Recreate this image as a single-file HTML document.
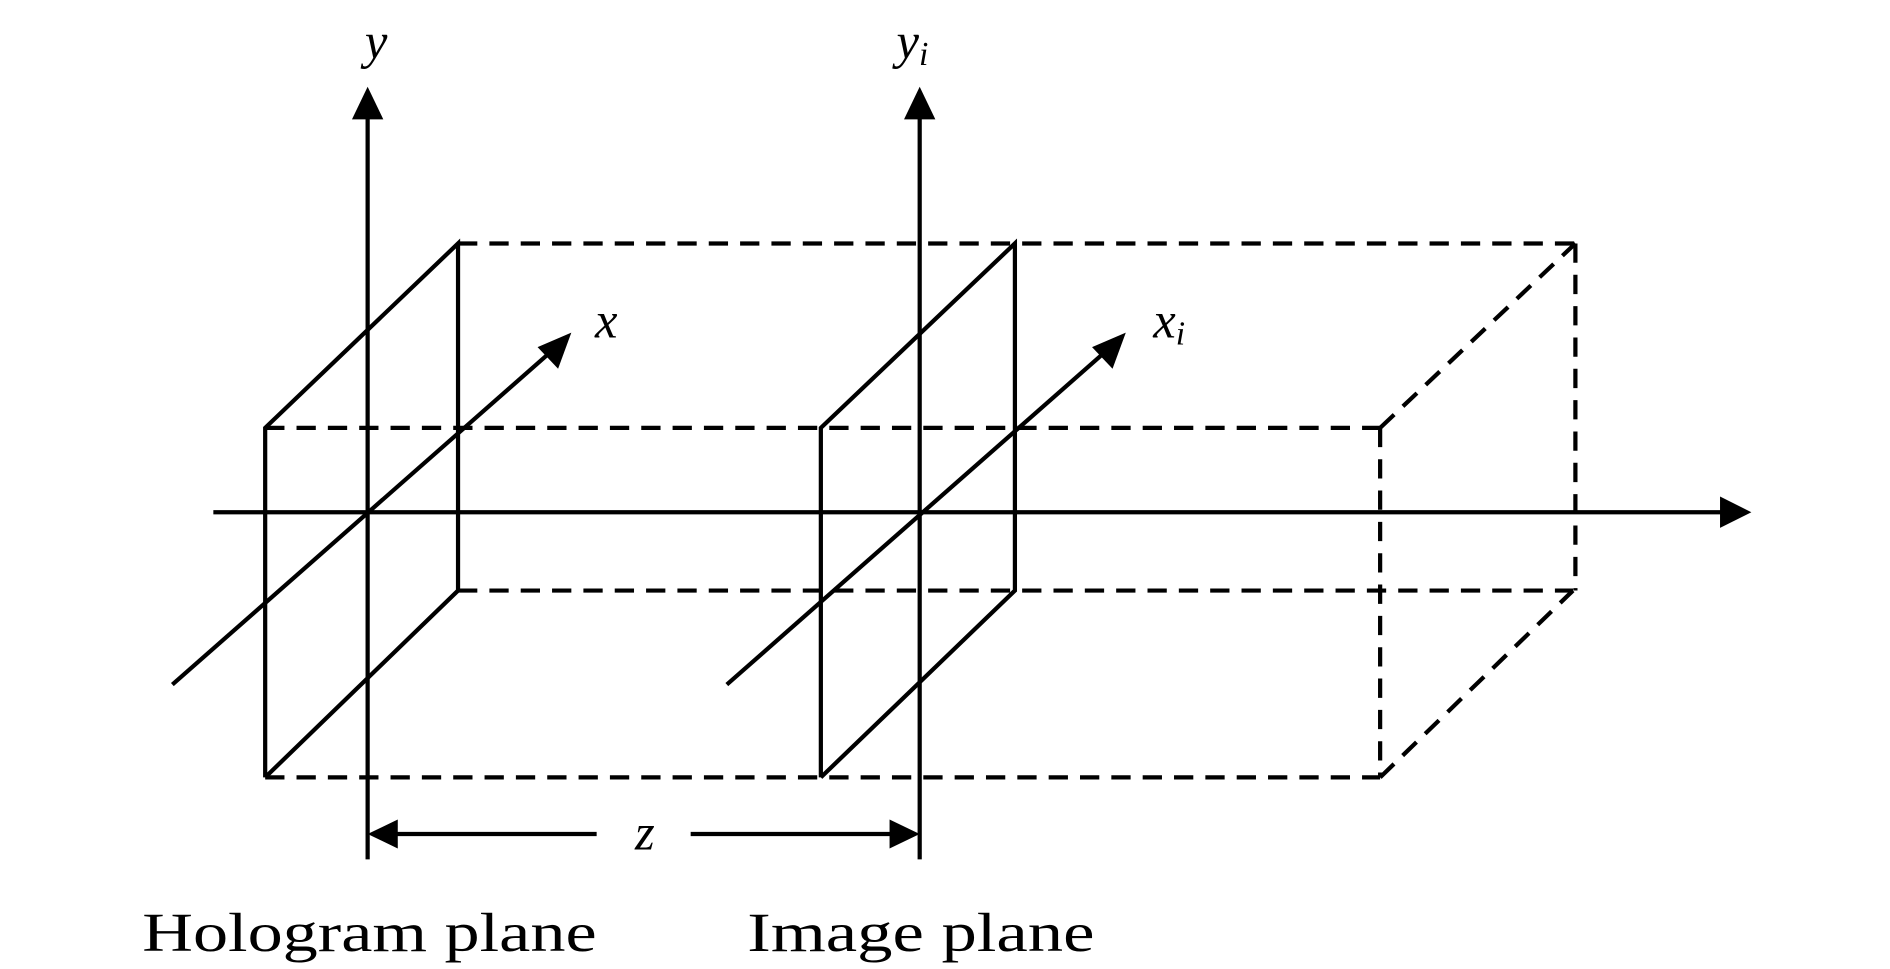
<!DOCTYPE html>
<html><head><style>html,body{margin:0;padding:0;background:#fff;width:1890px;height:969px;overflow:hidden}</style></head>
<body>
<svg width="1890" height="969" viewBox="0 0 1568 804" preserveAspectRatio="none" xmlns="http://www.w3.org/2000/svg">
<g stroke="#000" stroke-width="3.5" fill="none">
<line x1="305" y1="95" x2="305" y2="713"/>
<line x1="763" y1="95" x2="763" y2="713"/>
<line x1="177" y1="425" x2="1430" y2="425"/>
<line x1="143" y1="568" x2="458" y2="291"/>
<line x1="603" y1="568" x2="918" y2="291"/>
<polyline points="220,645 220,355 380,202 380,490 220,645"/>
<polyline points="681,645 681,355 842,202 842,490 681,645"/>
<line x1="320" y1="692" x2="495" y2="692"/>
<line x1="573" y1="692" x2="748" y2="692"/>
<g stroke-dasharray="16,10">
<line x1="380" y1="202" x2="1307" y2="202"/>
<line x1="220" y1="355" x2="1145" y2="355"/>
<line x1="380" y1="490" x2="1305" y2="490"/>
<line x1="220" y1="645" x2="1145" y2="645"/>
<line x1="1145" y1="355" x2="1145" y2="645"/>
<line x1="1307" y1="202" x2="1307" y2="490"/>
<line x1="1145" y1="355" x2="1307" y2="202"/>
<line x1="1145" y1="645" x2="1305" y2="490"/>
</g>
</g>
<g fill="#000">
<polygon points="305,72 292,99 318,99"/>
<polygon points="763,72 750,99 776,99"/>
<polygon points="1453,425 1427,412 1427,438"/>
<polygon points="474,276 446,288 463,306"/>
<polygon points="934,276 906,288 923,306"/>
<polygon points="305,692 330,680 330,704"/>
<polygon points="763,692 738,680 738,704"/>
</g>
<g font-family="'Liberation Serif',serif" font-style="italic" font-size="42" text-anchor="middle">
<text x="312" y="48">y</text>
<text x="757" y="48">y<tspan font-size="28" dy="6">i</tspan></text>
<text x="503" y="280">x</text>
<text x="970" y="280">x<tspan font-size="28" dy="6">i</tspan></text>
<text x="535" y="705">z</text>
</g>
<g font-family="'Liberation Serif',serif" font-size="46">
<text x="118" y="789" textLength="377" lengthAdjust="spacingAndGlyphs">Hologram plane</text>
<text x="620" y="789" textLength="288" lengthAdjust="spacingAndGlyphs">Image plane</text>
</g>
</svg>
</body></html>
